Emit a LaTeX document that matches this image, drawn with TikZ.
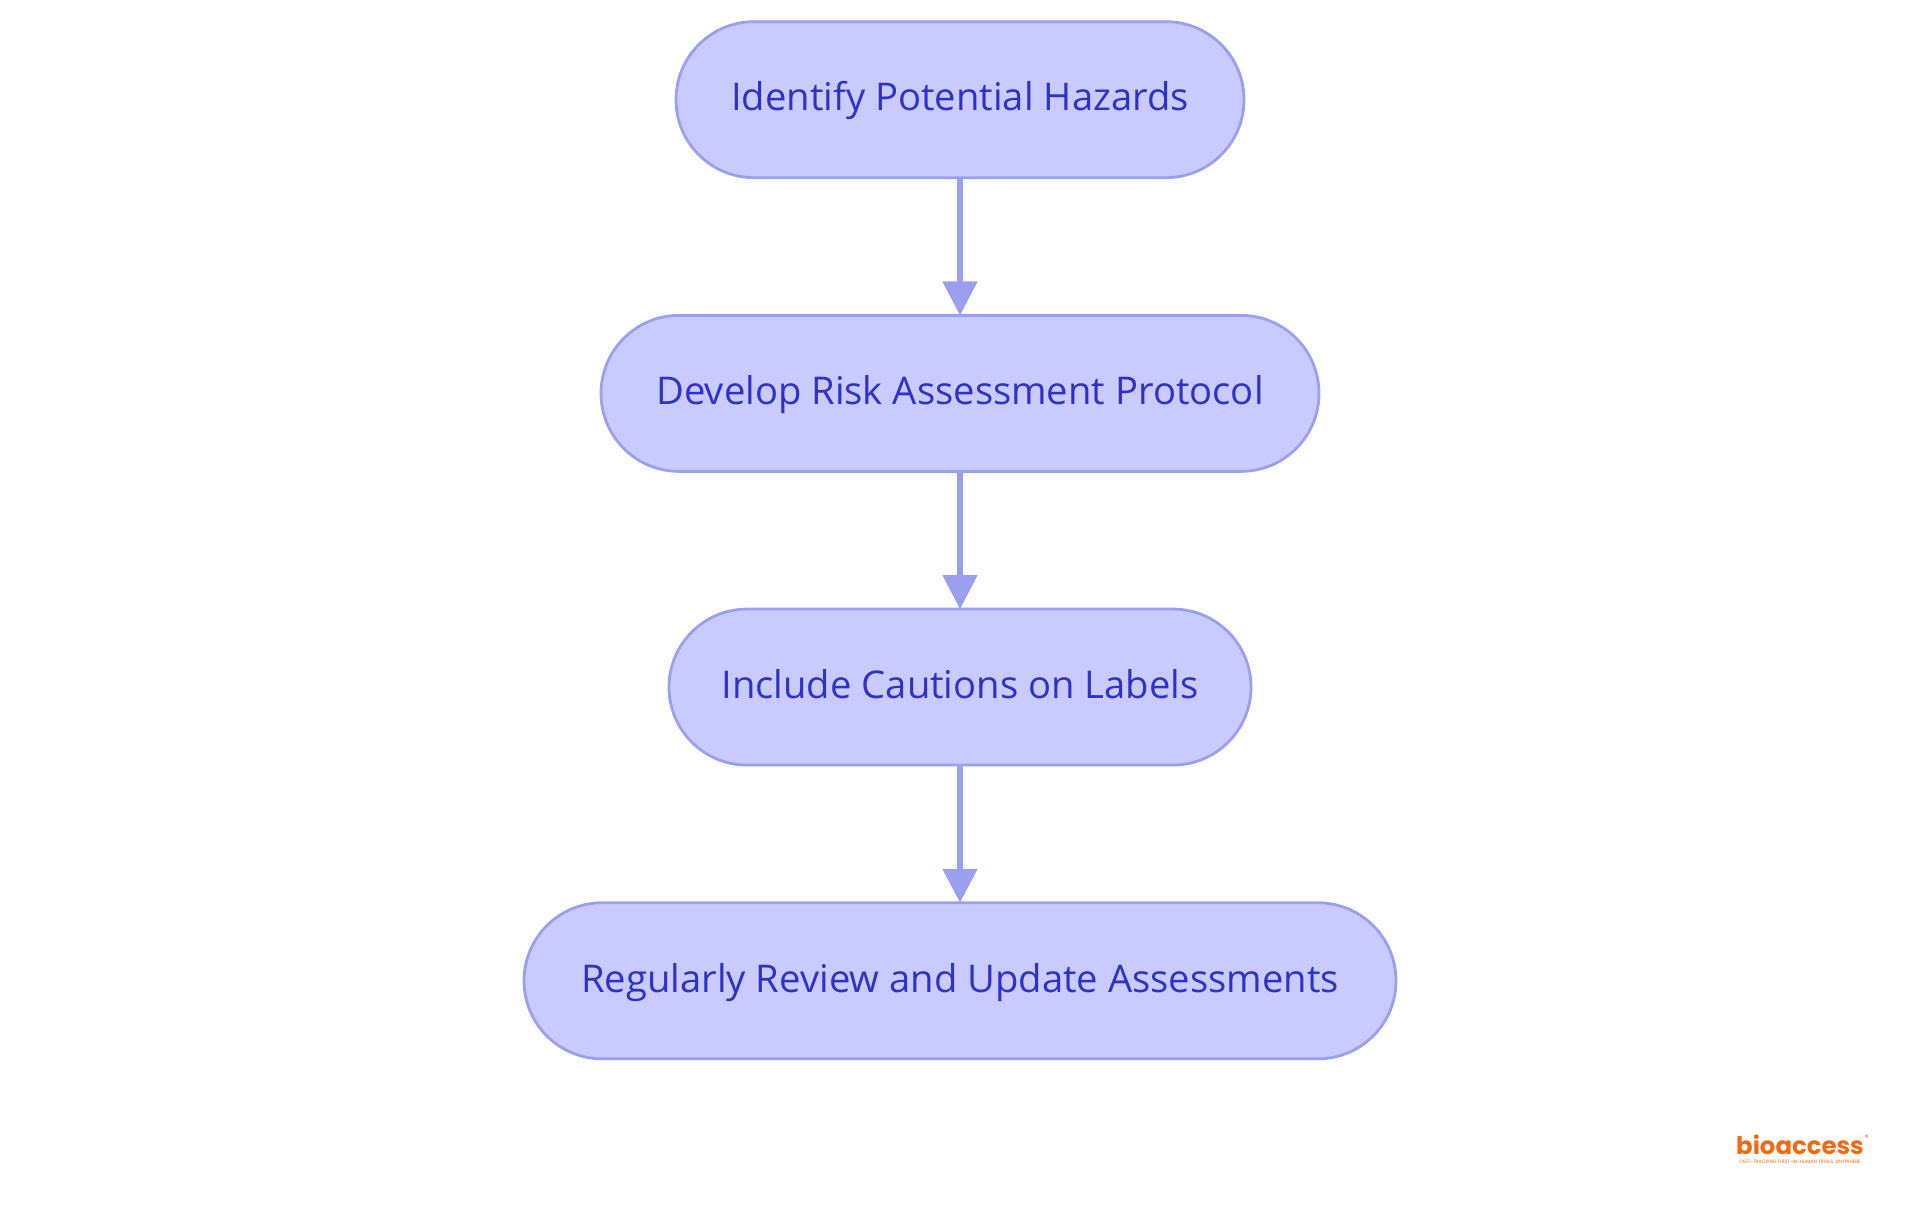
\documentclass[tikz,border=0pt]{standalone}
\usepackage{fontspec}
\usepackage{color}
\usetikzlibrary{arrows.meta}
\setmainfont{Open Sans}[Ligatures=NoCommon]
\newfontfamily\logofont{Poppins}
\definecolor{stepfill}{HTML}{C9CAFF}
\definecolor{stepline}{HTML}{9B9FF0}
\definecolor{steptext}{HTML}{2E31C8}
\definecolor{logotext}{HTML}{F26A12}

\begin{document}
\begin{tikzpicture}[font=\fontsize{19.1pt}{23pt}\selectfont, node distance={146.85pt},
                    main/.style = {draw=stepline, fill=stepfill, text=steptext, rectangle, rounded corners=39pt, minimum height=78pt, line width=1.4pt, outer sep=0pt, text height=16pt, text depth=4.7pt},
                    flow/.style = {-{Triangle[length=17pt,width=17pt]}, draw=stepline, line width=2.7pt}]
                    \useasboundingbox (0,0) rectangle (960pt,607.5pt);
                    \node[main, minimum width=284pt] (s0) at (480pt,557.65pt) {Identify Potential Hazards};
                    \node[main, minimum width=359pt] (s1) [below of=s0] {Develop Risk Assessment Protocol};
                    \node[main, minimum width=291pt] (s2) [below of=s1] {Include Cautions on Labels};
                    \node[main, minimum width=436pt] (s3) [below of=s2] {Regularly Review and Update Assessments};
                    \draw[flow] (s0) -- (s1);
                    \draw[flow] (s1) -- (s2);
                    \draw[flow] (s2) -- (s3);
                    \node[text=logotext, inner sep=0pt, font=\logofont\bfseries\fontsize{12.2pt}{12pt}\selectfont] (logo) at (900pt,35pt) {bioaccess};
                    \node[text=logotext, inner sep=0pt, font=\logofont\fontsize{4pt}{4pt}\selectfont, anchor=north west] (reg) at (logo.north east) {®};
                    \node[text=logotext, inner sep=0pt, font=\logofont\fontsize{2.4pt}{3pt}\selectfont] (tagline) at (900pt,26.2pt) {FAST-TRACKING FIRST-IN-HUMAN TRIALS, ANYWHERE};
                \end{tikzpicture}
\end{document}
